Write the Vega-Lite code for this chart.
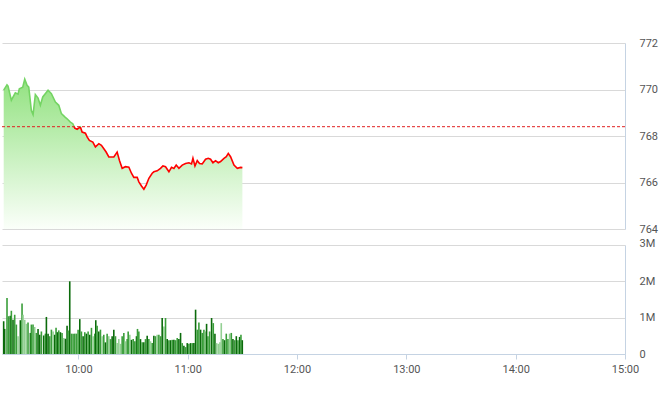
{
  "$schema": "https://vega.github.io/schema/vega-lite/v6.json",
  "padding": {"left": 0, "top": 37, "right": 5, "bottom": 5},
  "spacing": 16,
  "bounds": "flush",
  "config": {
    "view": {"stroke": null},
    "font": "Roboto",
    "axis": {"labelFont": "Roboto", "labelFontSize": 11, "labelColor": "#555555", "gridColor": "#d9d9d9", "domainColor": "#c5d3e3", "tickColor": "#c5d3e3", "title": null}
  },
  "vconcat": [
    {
      "width": 623,
      "height": 186,
      "data": {
        "values": [
          {"t": "09:19:00", "p": 769.97}, {"t": "09:20:49", "p": 770.2}, {"t": "09:21:22", "p": 770.15}, {"t": "09:23:12", "p": 769.54},
          {"t": "09:25:23", "p": 769.86}, {"t": "09:26:52", "p": 769.8}, {"t": "09:27:35", "p": 770.03}, {"t": "09:29:27", "p": 770.1},
          {"t": "09:30:33", "p": 770.44}, {"t": "09:31:49", "p": 770.18}, {"t": "09:32:45", "p": 770.1}, {"t": "09:34:10", "p": 769.1},
          {"t": "09:35:07", "p": 768.92}, {"t": "09:36:22", "p": 769.78}, {"t": "09:37:51", "p": 769.63}, {"t": "09:39:07", "p": 769.32},
          {"t": "09:40:26", "p": 769.68}, {"t": "09:43:21", "p": 769.97}, {"t": "09:45:10", "p": 769.82}, {"t": "09:47:22", "p": 769.46},
          {"t": "09:49:14", "p": 769.32}, {"t": "09:50:40", "p": 768.96}, {"t": "09:52:32", "p": 768.82}, {"t": "09:53:47", "p": 768.74},
          {"t": "09:55:36", "p": 768.6}, {"t": "09:56:55", "p": 768.53}, {"t": "09:58:01", "p": 768.34}, {"t": "09:59:17", "p": 768.29},
          {"t": "10:01:06", "p": 768.39}, {"t": "10:02:02", "p": 768.17}, {"t": "10:03:51", "p": 768.12}, {"t": "10:04:47", "p": 767.96},
          {"t": "10:06:02", "p": 767.81}, {"t": "10:07:55", "p": 767.74}, {"t": "10:09:20", "p": 767.53}, {"t": "10:11:13", "p": 767.67},
          {"t": "10:12:38", "p": 767.6}, {"t": "10:13:58", "p": 767.45}, {"t": "10:15:13", "p": 767.31}, {"t": "10:16:42", "p": 767.1},
          {"t": "10:19:27", "p": 767.1}, {"t": "10:21:16", "p": 767.31}, {"t": "10:22:32", "p": 766.95}, {"t": "10:24:01", "p": 766.61},
          {"t": "10:25:50", "p": 766.68}, {"t": "10:27:42", "p": 766.66}, {"t": "10:29:07", "p": 766.4}, {"t": "10:30:26", "p": 766.22},
          {"t": "10:32:16", "p": 766.22}, {"t": "10:33:11", "p": 766.03}, {"t": "10:34:37", "p": 765.85}, {"t": "10:35:56", "p": 765.71},
          {"t": "10:37:12", "p": 765.89}, {"t": "10:38:41", "p": 766.18}, {"t": "10:40:30", "p": 766.4}, {"t": "10:41:26", "p": 766.46},
          {"t": "10:43:15", "p": 766.5}, {"t": "10:45:04", "p": 766.61}, {"t": "10:46:23", "p": 766.71}, {"t": "10:47:49", "p": 766.68},
          {"t": "10:49:41", "p": 766.46}, {"t": "10:51:06", "p": 766.65}, {"t": "10:52:25", "p": 766.6}, {"t": "10:53:41", "p": 766.75},
          {"t": "10:55:10", "p": 766.61}, {"t": "10:56:59", "p": 766.75}, {"t": "10:58:48", "p": 766.82}, {"t": "11:00:40", "p": 766.85},
          {"t": "11:02:05", "p": 766.8}, {"t": "11:02:52", "p": 767.04}, {"t": "11:03:58", "p": 766.71}, {"t": "11:05:14", "p": 766.94},
          {"t": "11:06:29", "p": 766.82}, {"t": "11:07:58", "p": 766.8}, {"t": "11:09:47", "p": 767.0}, {"t": "11:11:16", "p": 767.04},
          {"t": "11:12:32", "p": 767.0}, {"t": "11:13:51", "p": 766.85}, {"t": "11:15:17", "p": 766.94}, {"t": "11:16:46", "p": 766.85},
          {"t": "11:18:02", "p": 766.9}, {"t": "11:19:54", "p": 767.04}, {"t": "11:21:10", "p": 767.11}, {"t": "11:22:16", "p": 767.25},
          {"t": "11:23:31", "p": 767.11}, {"t": "11:25:23", "p": 766.75}, {"t": "11:27:13", "p": 766.61}, {"t": "11:29:01", "p": 766.65},
          {"t": "11:30:00", "p": 766.64}
        ],
        "format": {"parse": {"t": "date:'%H:%M:%S'"}}
      },
      "layer": [
        {
          "mark": {"type": "area", "color": {"gradient": "linear", "x1": 0, "y1": 0, "x2": 0, "y2": 1, "stops": [{"offset": 0, "color": "#93e281"}, {"offset": 1, "color": "#fbfffa"}]}},
          "encoding": {
            "x": {"field": "t", "type": "temporal", "scale": {"domain": [{"year": 1900, "month": 1, "date": 1, "hours": 9, "minutes": 18, "seconds": 4}, {"year": 1900, "month": 1, "date": 1, "hours": 15, "minutes": 0}], "nice": false, "padding": 0}, "axis": null},
            "y": {"field": "p", "type": "quantitative", "scale": {"domain": [764, 772], "zero": false, "nice": false}, "axis": {"orient": "right", "values": [764, 766, 768, 770, 772], "tickSize": 0, "labelPadding": 14}},
            "y2": {"datum": 764}
          }
        },
        {
          "mark": {"type": "line", "strokeWidth": 1.6, "color": {"gradient": "linear", "x1": 0, "y1": 0, "x2": 0, "y2": 1, "stops": [{"offset": 0, "color": "#74d463"}, {"offset": 0.4313, "color": "#74d463"}, {"offset": 0.4313, "color": "#ff0000"}, {"offset": 1, "color": "#ff0000"}]}},
          "encoding": {
            "x": {"field": "t", "type": "temporal"},
            "y": {"field": "p", "type": "quantitative"}
          }
        },
        {
          "data": {"values": [{"ref": 768.4}]},
          "mark": {"type": "rule", "color": "#e02020", "strokeDash": [3, 2], "strokeWidth": 1},
          "encoding": {"y": {"field": "ref", "type": "quantitative"}}
        }
      ]
    },
    {
      "width": 623,
      "height": 109,
      "data": {
        "values": [
          {"t": "09:18:59", "v": 900000, "g": "d"}, {"t": "09:19:32", "v": 690000, "g": "d"}, {"t": "09:20:49", "v": 1540000, "g": "m"}, {"t": "09:21:44", "v": 1040000, "g": "m"},
          {"t": "09:22:39", "v": 1050000, "g": "d"}, {"t": "09:23:12", "v": 1190000, "g": "m"}, {"t": "09:24:07", "v": 940000, "g": "d"}, {"t": "09:25:02", "v": 1080000, "g": "m"},
          {"t": "09:25:57", "v": 810000, "g": "m"}, {"t": "09:26:52", "v": 490000, "g": "l"}, {"t": "09:28:08", "v": 930000, "g": "d"}, {"t": "09:29:04", "v": 1390000, "g": "m"},
          {"t": "09:29:37", "v": 1080000, "g": "l"}, {"t": "09:30:32", "v": 940000, "g": "l"}, {"t": "09:31:26", "v": 830000, "g": "l"}, {"t": "09:32:21", "v": 870000, "g": "m"},
          {"t": "09:33:38", "v": 580000, "g": "d"}, {"t": "09:34:11", "v": 810000, "g": "m"}, {"t": "09:35:06", "v": 810000, "g": "m"}, {"t": "09:36:01", "v": 740000, "g": "l"},
          {"t": "09:36:56", "v": 580000, "g": "m"}, {"t": "09:37:51", "v": 690000, "g": "d"}, {"t": "09:38:46", "v": 530000, "g": "d"}, {"t": "09:39:41", "v": 620000, "g": "m"},
          {"t": "09:40:58", "v": 510000, "g": "d"}, {"t": "09:41:53", "v": 560000, "g": "m"}, {"t": "09:42:26", "v": 1020000, "g": "d"}, {"t": "09:43:21", "v": 560000, "g": "d"},
          {"t": "09:44:16", "v": 490000, "g": "m"}, {"t": "09:45:11", "v": 670000, "g": "m"}, {"t": "09:46:06", "v": 620000, "g": "l"}, {"t": "09:47:01", "v": 530000, "g": "d"},
          {"t": "09:47:44", "v": 720000, "g": "m"}, {"t": "09:48:29", "v": 600000, "g": "d"}, {"t": "09:49:13", "v": 650000, "g": "m"}, {"t": "09:50:08", "v": 600000, "g": "d"},
          {"t": "09:51:02", "v": 580000, "g": "m"}, {"t": "09:51:57", "v": 440000, "g": "l"}, {"t": "09:52:52", "v": 420000, "g": "d"}, {"t": "09:53:47", "v": 780000, "g": "d"},
          {"t": "09:54:20", "v": 650000, "g": "m"}, {"t": "09:55:15", "v": 2000000, "g": "d"}, {"t": "09:56:10", "v": 560000, "g": "m"}, {"t": "09:57:05", "v": 560000, "g": "m"},
          {"t": "09:58:00", "v": 560000, "g": "m"}, {"t": "09:58:55", "v": 560000, "g": "m"}, {"t": "09:59:50", "v": 670000, "g": "m"}, {"t": "10:00:45", "v": 960000, "g": "d"},
          {"t": "10:01:40", "v": 620000, "g": "m"}, {"t": "10:02:35", "v": 490000, "g": "d"}, {"t": "10:03:30", "v": 600000, "g": "m"}, {"t": "10:04:25", "v": 560000, "g": "d"},
          {"t": "10:05:20", "v": 620000, "g": "m"}, {"t": "10:06:14", "v": 530000, "g": "d"}, {"t": "10:07:10", "v": 720000, "g": "m"}, {"t": "10:08:05", "v": 490000, "g": "l"},
          {"t": "10:08:59", "v": 560000, "g": "m"}, {"t": "10:09:32", "v": 930000, "g": "d"}, {"t": "10:10:16", "v": 780000, "g": "m"}, {"t": "10:11:11", "v": 620000, "g": "d"},
          {"t": "10:12:06", "v": 670000, "g": "m"}, {"t": "10:13:01", "v": 490000, "g": "l"}, {"t": "10:13:56", "v": 530000, "g": "m"}, {"t": "10:14:51", "v": 320000, "g": "d"},
          {"t": "10:15:46", "v": 560000, "g": "m"}, {"t": "10:16:41", "v": 490000, "g": "l"}, {"t": "10:17:36", "v": 410000, "g": "m"}, {"t": "10:18:31", "v": 490000, "g": "d"},
          {"t": "10:19:26", "v": 670000, "g": "d"}, {"t": "10:20:21", "v": 490000, "g": "m"}, {"t": "10:21:16", "v": 300000, "g": "l"}, {"t": "10:22:11", "v": 410000, "g": "l"},
          {"t": "10:23:06", "v": 280000, "g": "l"}, {"t": "10:24:01", "v": 490000, "g": "m"}, {"t": "10:24:56", "v": 580000, "g": "m"}, {"t": "10:25:50", "v": 350000, "g": "l"},
          {"t": "10:26:46", "v": 410000, "g": "m"}, {"t": "10:27:19", "v": 620000, "g": "m"}, {"t": "10:28:13", "v": 530000, "g": "l"}, {"t": "10:29:08", "v": 390000, "g": "d"},
          {"t": "10:30:04", "v": 410000, "g": "m"}, {"t": "10:30:58", "v": 350000, "g": "m"}, {"t": "10:31:53", "v": 490000, "g": "d"}, {"t": "10:32:26", "v": 690000, "g": "m"},
          {"t": "10:33:10", "v": 620000, "g": "m"}, {"t": "10:34:05", "v": 410000, "g": "d"}, {"t": "10:35:00", "v": 320000, "g": "m"}, {"t": "10:35:55", "v": 320000, "g": "d"},
          {"t": "10:36:50", "v": 410000, "g": "m"}, {"t": "10:37:45", "v": 500000, "g": "d"}, {"t": "10:38:40", "v": 410000, "g": "m"}, {"t": "10:39:35", "v": 350000, "g": "l"},
          {"t": "10:40:30", "v": 300000, "g": "m"}, {"t": "10:41:25", "v": 500000, "g": "d"}, {"t": "10:42:20", "v": 490000, "g": "m"}, {"t": "10:43:14", "v": 530000, "g": "l"},
          {"t": "10:44:10", "v": 530000, "g": "m"}, {"t": "10:45:05", "v": 490000, "g": "m"}, {"t": "10:45:59", "v": 990000, "g": "d"}, {"t": "10:46:55", "v": 760000, "g": "l"},
          {"t": "10:47:49", "v": 990000, "g": "m"}, {"t": "10:48:44", "v": 410000, "g": "d"}, {"t": "10:49:40", "v": 380000, "g": "m"}, {"t": "10:50:34", "v": 380000, "g": "d"},
          {"t": "10:51:29", "v": 390000, "g": "m"}, {"t": "10:52:24", "v": 390000, "g": "d"}, {"t": "10:53:19", "v": 380000, "g": "m"}, {"t": "10:54:14", "v": 440000, "g": "m"},
          {"t": "10:55:09", "v": 410000, "g": "d"}, {"t": "10:56:04", "v": 580000, "g": "d"}, {"t": "10:56:59", "v": 300000, "g": "m"}, {"t": "10:57:54", "v": 230000, "g": "d"},
          {"t": "10:58:49", "v": 190000, "g": "m"}, {"t": "10:59:44", "v": 300000, "g": "d"}, {"t": "11:00:39", "v": 280000, "g": "m"}, {"t": "11:01:34", "v": 300000, "g": "d"},
          {"t": "11:02:29", "v": 300000, "g": "m"}, {"t": "11:03:23", "v": 300000, "g": "d"}, {"t": "11:04:19", "v": 1220000, "g": "d"}, {"t": "11:05:13", "v": 670000, "g": "m"},
          {"t": "11:06:08", "v": 870000, "g": "m"}, {"t": "11:07:04", "v": 670000, "g": "d"}, {"t": "11:07:58", "v": 580000, "g": "m"}, {"t": "11:08:53", "v": 670000, "g": "m"},
          {"t": "11:09:48", "v": 620000, "g": "l"}, {"t": "11:10:21", "v": 830000, "g": "d"}, {"t": "11:11:05", "v": 490000, "g": "m"}, {"t": "11:12:00", "v": 620000, "g": "m"},
          {"t": "11:13:06", "v": 990000, "g": "d"}, {"t": "11:14:01", "v": 850000, "g": "m"}, {"t": "11:14:56", "v": 560000, "g": "d"}, {"t": "11:15:51", "v": 300000, "g": "l"},
          {"t": "11:16:46", "v": 280000, "g": "l"}, {"t": "11:17:41", "v": 320000, "g": "l"}, {"t": "11:18:25", "v": 850000, "g": "l"}, {"t": "11:19:20", "v": 410000, "g": "m"},
          {"t": "11:20:14", "v": 380000, "g": "d"}, {"t": "11:21:10", "v": 560000, "g": "m"}, {"t": "11:22:05", "v": 410000, "g": "m"}, {"t": "11:22:59", "v": 560000, "g": "l"},
          {"t": "11:23:55", "v": 580000, "g": "m"}, {"t": "11:24:49", "v": 410000, "g": "d"}, {"t": "11:25:44", "v": 380000, "g": "m"}, {"t": "11:26:40", "v": 490000, "g": "d"},
          {"t": "11:27:34", "v": 380000, "g": "m"}, {"t": "11:28:29", "v": 470000, "g": "d"}, {"t": "11:29:13", "v": 530000, "g": "m"}, {"t": "11:29:57", "v": 380000, "g": "d"}
        ],
        "format": {"parse": {"t": "date:'%H:%M:%S'"}}
      },
      "mark": {"type": "bar", "width": 1.6},
      "encoding": {
        "x": {
          "field": "t", "type": "temporal",
          "scale": {"domain": [{"year": 1900, "month": 1, "date": 1, "hours": 9, "minutes": 18, "seconds": 4}, {"year": 1900, "month": 1, "date": 1, "hours": 15, "minutes": 0}], "nice": false, "padding": 0},
          "axis": {
            "values": [
              {"year": 1900, "month": 1, "date": 1, "hours": 10, "minutes": 0},
              {"year": 1900, "month": 1, "date": 1, "hours": 11, "minutes": 0},
              {"year": 1900, "month": 1, "date": 1, "hours": 12, "minutes": 0},
              {"year": 1900, "month": 1, "date": 1, "hours": 13, "minutes": 0},
              {"year": 1900, "month": 1, "date": 1, "hours": 14, "minutes": 0},
              {"year": 1900, "month": 1, "date": 1, "hours": 15, "minutes": 0}
            ],
            "format": "%H:%M", "grid": false, "tickSize": 5, "labelPadding": 4, "labelFlush": false
          }
        },
        "y": {
          "field": "v", "type": "quantitative",
          "scale": {"domain": [0, 3000000], "nice": false},
          "axis": {"orient": "right", "values": [0, 1000000, 2000000, 3000000], "tickSize": 0, "labelPadding": 14, "labelFlush": false,
                   "labelExpr": "datum.value == 0 ? '0' : (datum.value / 1000000) + 'M'",
                   "labelOffset": {"condition": {"test": "datum.value == 3000000", "value": -2}, "value": 0}}
        },
        "color": {"field": "g", "type": "nominal", "scale": {"domain": ["d", "m", "l"], "range": ["#0b6b0b", "#3a9e3a", "#93d093"]}, "legend": null}
      }
    }
  ]
}
